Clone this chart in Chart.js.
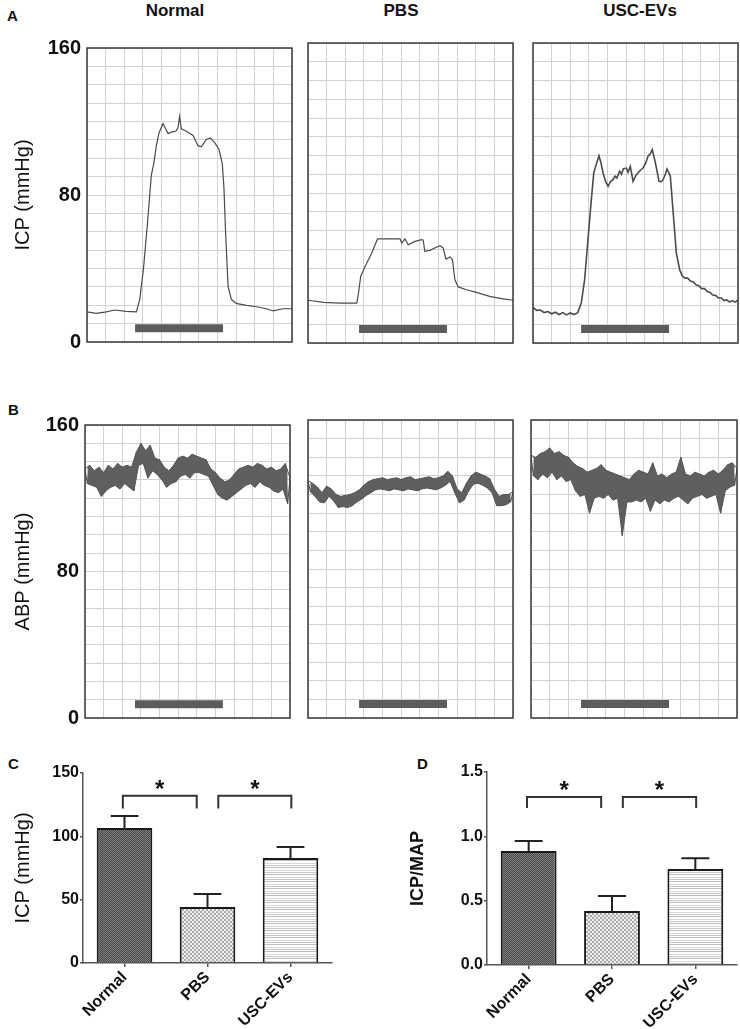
<!DOCTYPE html>
<html>
<head>
<meta charset="utf-8">
<title>ICP / ABP</title>
<script src="https://cdn.jsdelivr.net/npm/chart.js@4.4.1/dist/chart.umd.min.js"></script>
<style>
  body { margin: 0; background: #fff; }
  #fig { position: relative; width: 740px; height: 1029px; overflow: hidden;
         font-family: "Liberation Sans", Arial, sans-serif; color: #111; }
  #fig canvas { position: absolute; }
  .letter { position: absolute; font-weight: bold; font-size: 15px; line-height: 18px; }
  .col { position: absolute; width: 140px; text-align: center; font-weight: bold;
         font-size: 17px; line-height: 20px; top: 1px; }
</style>
</head>
<body>
<div id="fig">
  <div class="letter" style="left:7px;top:7px">A</div>
  <div class="letter" style="left:8px;top:401px">B</div>
  <div class="letter" style="left:8px;top:755px">C</div>
  <div class="letter" style="left:417px;top:755px">D</div>
  <div class="col" style="left:105px">Normal</div>
  <div class="col" style="left:331px">PBS</div>
  <div class="col" style="left:570px">USC-EVs</div>

  <canvas id="a1" width="296" height="330" style="left:0;top:30px"></canvas>
  <canvas id="a2" width="211" height="330" style="left:305px;top:30px"></canvas>
  <canvas id="a3" width="210" height="330" style="left:530px;top:30px"></canvas>
  <canvas id="b1" width="294" height="330" style="left:0;top:407px"></canvas>
  <canvas id="b2" width="211" height="330" style="left:305px;top:407px"></canvas>
  <canvas id="b3" width="212" height="330" style="left:528px;top:407px"></canvas>
  <canvas id="c" width="345" height="274" style="left:0;top:755px"></canvas>
  <canvas id="d" width="370" height="274" style="left:370px;top:755px"></canvas>
</div>
<script>
// ---- panel A: ICP traces (x = grid divisions, 11 across; y = mmHg) ----
const icpNormalT = [0, 0.5, 1.04, 1.48, 2.1, 2.65, 2.83, 3.04, 3.27, 3.45, 3.58, 3.72, 3.86, 4.08, 4.2, 4.35, 4.53, 4.76, 4.88, 4.97, 5.06, 5.33, 5.69, 5.96, 6.14, 6.4, 6.62, 6.85, 7.08, 7.26, 7.35, 7.44, 7.57, 7.75, 8.01, 8.55, 9.09, 9.62, 9.98, 10.52, 11];
const icpNormalV = [16.4, 15.6, 16.4, 17.4, 16.7, 16.4, 23, 40.9, 67.6, 90.7, 96.9, 106.7, 113.8, 118.8, 116.5, 113.4, 114.2, 114.7, 116.5, 122.7, 116, 114.7, 112.4, 106.7, 106.3, 110.2, 111.1, 108.5, 104.9, 96.9, 83.6, 58.7, 30.2, 23.1, 21, 19.9, 19.2, 18.1, 16.9, 18.1, 18.1];

const icpPbsT = [0, 0.84, 1.73, 2.62, 2.71, 2.83, 3.07, 3.42, 3.73, 4.4, 4.94, 5.03, 5.2, 5.38, 5.74, 6.1, 6.18, 6.27, 6.54, 6.8, 7.08, 7.25, 7.4, 7.61, 7.75, 7.88, 8.06, 8.5, 9.04, 9.75, 10.47, 11];
const icpPbsV = [22.8, 21.7, 21.3, 21.3, 26.7, 35.6, 40.9, 48, 55.5, 55.5, 55.5, 53.3, 55.5, 52.4, 54.2, 55.1, 54.8, 48.9, 49.4, 50.7, 51.9, 50.7, 44.8, 45.9, 44.5, 33.8, 29.9, 28.4, 27, 24.9, 23.5, 22.8];

const icpUscT = [0, 0.2, 0.4, 0.6, 0.8, 1.0, 1.2, 1.4, 1.6, 1.8, 2.0, 2.2, 2.4, 2.59, 2.77, 2.95, 3.13, 3.26, 3.36, 3.54, 3.65, 3.76, 3.9, 4.03, 4.15, 4.29, 4.4, 4.5, 4.65, 4.75, 4.85, 5.01, 5.1, 5.22, 5.3, 5.37, 5.5, 5.63, 5.75, 5.9, 6.05, 6.17, 6.3, 6.4, 6.53, 6.65, 6.76, 6.88, 6.98, 7.1, 7.19, 7.28, 7.37, 7.51, 7.69, 7.87, 8.0, 8.15, 8.3, 8.45, 8.6, 8.75, 8.9, 9.05, 9.2, 9.35, 9.5, 9.65, 9.8, 9.95, 10.1, 10.25, 10.4, 10.55, 10.7, 10.85, 11];
const icpUscV = [19, 17.4, 17.6, 16.2, 16.8, 15.6, 16.4, 15.2, 16.2, 15, 16, 15.2, 16.2, 21.3, 33.8, 55.1, 76.5, 90.7, 94.2, 99.9, 96, 90.7, 86, 83.6, 86, 87.1, 89, 88, 91.6, 90, 93, 93.3, 91, 94.2, 90, 86.2, 89, 90.7, 92, 93.3, 96, 99.6, 101, 103.1, 97.8, 92, 86.2, 86, 87.1, 90, 92.8, 91, 88.9, 71.1, 48, 39.1, 36, 34.6, 34.6, 33, 32.6, 31, 30.6, 29, 29, 27.4, 27, 25.6, 25.4, 24, 24, 22.6, 23, 21.8, 22.6, 21.8, 22.8];

// ---- panel B: ABP traces, one reading every 1/8 grid division ----
// (readings alternate between the top and the bottom of the pulse band)
const abpStep = 0.125;
const abpNormal = [136, 128, 138, 127, 135, 126, 137, 121, 134, 124, 138, 126, 136, 127, 139, 125, 137, 128, 138, 126, 137, 124, 145, 138, 150, 139, 146, 131, 149, 135, 142, 133, 141, 130, 137, 126, 135, 128, 138, 129, 142, 132, 143, 133, 142, 131, 144, 134, 143, 134, 142, 133, 141, 132, 136, 127, 134, 122, 131, 120, 129, 119, 130, 121, 133, 123, 136, 125, 137, 127, 138, 128, 137, 126, 139, 129, 138, 127, 136, 126, 137, 124, 135, 123, 136, 125, 139, 117, 131];
const abpPbs = [127.5, 121.5, 126, 119, 124, 116, 121, 115.5, 124.5, 119, 123, 116.5, 120, 113, 119, 113.5, 119.5, 113, 120, 114, 121, 116, 122.5, 117.5, 125, 119.5, 127, 121, 128, 122.5, 128.5, 123, 129, 122.5, 128, 122, 128.5, 123, 129, 122.5, 128, 122, 129, 123, 129.5, 122.5, 128, 122, 128.5, 123, 129, 123.5, 129.5, 123, 128.5, 122.5, 129, 123.5, 130, 125, 132.5, 127, 130, 121, 123, 115.5, 121, 117, 126, 122, 130, 125.5, 132, 126, 131, 125, 130, 123.5, 128.5, 121, 123, 114, 119, 114, 120, 114.5, 120, 116, 121.5];
const abpUsc = [141, 130, 140, 128, 142, 131, 143, 129, 145, 132, 142, 128, 143, 130, 141, 127, 140, 128, 137, 122, 135, 119, 134, 120, 132, 110, 133, 118, 134, 119, 136, 118, 133, 120, 132, 117, 131, 118, 130, 98, 129, 116, 128, 116, 131, 117, 133, 116, 132, 118, 131, 111, 137, 117, 130, 115, 131, 117, 129, 116, 131, 118, 132, 119, 140, 117, 131, 115, 130, 118, 132, 119, 131, 120, 130, 118, 132, 119, 133, 120, 131, 110, 133, 122, 136, 124, 137, 125, 134];

// stimulation bar (start, end) in grid divisions, drawn at stimLevel mmHg
const stimA = [[2.58, 7.3], [2.74, 7.46], [2.58, 7.3]];
const stimB = [[2.68, 7.4], [2.74, 7.46], [2.67, 7.37]];
const stimLevel = 7.5;

// ---- panels C / D: group means with SEM ----
const groups = ['Normal', 'PBS', 'USC-EVs'];
const icpMean = [106.6, 44.2, 82.9];
const icpSem = [9.4, 10.3, 8.7];
const ratioMean = [0.886, 0.42, 0.746];
const ratioSem = [0.078, 0.116, 0.084];
// significance brackets, in category units
const sigFrom = [-0.02, 1.13];
const sigTo = [0.87, 2.01];

Chart.defaults.font.family = '"Liberation Sans", Arial, sans-serif';
Chart.defaults.color = '#111';
Chart.defaults.animation = false;

// frame round the recording boxes
const boxFrame = {
    id: 'boxFrame',
    afterDatasetsDraw(chart) {
        const { ctx, chartArea: a } = chart;
        ctx.save();
        ctx.strokeStyle = '#3a3a3a';
        ctx.lineWidth = 1.5;
        ctx.strokeRect(a.left, a.top, a.right - a.left, a.bottom - a.top);
        ctx.restore();
    }
};

function pairs(t, v) {
    return t.map((x, i) => ({ x: x, y: v[i] }));
}

function sampled(v) {
    return v.map((y, i) => ({ x: i * abpStep, y: y }));
}

// top / bottom edges of the pulse band, filled between
function bandSets(v) {
    const upper = [];
    const lower = [];
    v.forEach((y, i) => (i % 2 ? lower : upper).push({ x: i * abpStep, y: y }));
    return [
        { data: upper, borderColor: '#555', borderWidth: 1, pointRadius: 0, fill: false },
        { data: lower, borderColor: '#555', borderWidth: 1, pointRadius: 0, fill: '-1', backgroundColor: '#5f5f5f' }
    ];
}

function traceChart(id, sets, stim, yTitle, pad, yWidth) {
    const showAxis = yWidth > 0;
    return new Chart(document.getElementById(id), {
        type: 'line',
        data: {
            datasets: sets.concat([{
                data: [{ x: stim[0], y: stimLevel }, { x: stim[1], y: stimLevel }],
                borderColor: '#5c5c5c', borderWidth: 8, borderCapStyle: 'butt', pointRadius: 0
            }])
        },
        options: {
            responsive: false,
            events: [],
            layout: { padding: pad },
            plugins: { legend: { display: false }, tooltip: { enabled: false } },
            scales: {
                x: {
                    type: 'linear', min: 0, max: 11,
                    ticks: { display: false, stepSize: 1 },
                    grid: { color: '#d2d2d2', drawTicks: false },
                    border: { display: false },
                    afterFit: s => { s.height = 0; }
                },
                y: {
                    min: 0, max: 160,
                    ticks: {
                        display: showAxis, stepSize: 10, autoSkip: false, padding: 6,
                        font: { size: 20, weight: 'bold' },
                        callback: v => (v % 80 === 0 ? v : '')
                    },
                    grid: { color: '#d2d2d2', drawTicks: false },
                    border: { display: false },
                    title: { display: showAxis, text: yTitle, font: { size: 20 }, padding: { top: 11, bottom: 0 } },
                    afterFit: s => { s.width = yWidth; }
                }
            }
        },
        plugins: [boxFrame]
    });
}

function lineSet(points, width) {
    return [{ data: points, borderColor: '#4b4b4b', borderWidth: width, pointRadius: 0, tension: 0 }];
}

function abpSets(v) {
    return bandSets(v).concat(lineSet(sampled(v), 1));
}

traceChart('a1', lineSet(pairs(icpNormalT, icpNormalV), 1.2), stimA[0], 'ICP (mmHg)', { left: 0, right: 4, top: 13, bottom: 17 }, 87);
traceChart('a2', lineSet(pairs(icpPbsT, icpPbsV), 1.2), stimA[1], '', { left: 3, right: 3, top: 13, bottom: 17 }, 0);
traceChart('a3', lineSet(pairs(icpUscT, icpUscV), 1.6), stimA[2], '', { left: 3, right: 2, top: 13, bottom: 17 }, 0);
traceChart('b1', abpSets(abpNormal), stimB[0], 'ABP (mmHg)', { left: 0, right: 4, top: 13, bottom: 19 }, 85);
traceChart('b2', abpSets(abpPbs), stimB[1], '', { left: 3, right: 3, top: 13, bottom: 19 }, 0);
traceChart('b3', abpSets(abpUsc), stimB[2], '', { left: 3, right: 3, top: 13, bottom: 19 }, 0);

// bar fills
function makePattern(w, h, paint) {
    const c = document.createElement('canvas');
    c.width = w;
    c.height = h;
    const g = c.getContext('2d');
    paint(g);
    return g.createPattern(c, 'repeat');
}
const fillNormal = makePattern(2, 2, g => {
    g.fillStyle = '#808080'; g.fillRect(0, 0, 2, 2);
    g.fillStyle = '#474747'; g.fillRect(0, 0, 1, 1); g.fillRect(1, 1, 1, 1);
});
const fillPbs = makePattern(4, 4, g => {
    g.fillStyle = '#ededed'; g.fillRect(0, 0, 4, 4);
    g.fillStyle = '#ababab'; g.fillRect(0, 0, 2, 2); g.fillRect(2, 2, 2, 2);
});
const fillUsc = makePattern(1, 7, g => {
    g.fillStyle = '#ffffff'; g.fillRect(0, 0, 1, 7);
    g.fillStyle = '#bcbcbc'; g.fillRect(0, 0, 1, 1);
    g.fillStyle = '#d8d8d8'; g.fillRect(0, 3, 1, 1);
    g.fillStyle = '#c6c6c6'; g.fillRect(0, 5, 1, 1);
});

// error bars (upper half), significance brackets and stars
function annotations(mean, sem, sig) {
    return {
        id: 'annotations',
        afterDatasetsDraw(chart) {
            const { ctx, scales } = chart;
            const bars = chart.getDatasetMeta(0).data;
            ctx.save();
            ctx.strokeStyle = '#222';
            ctx.lineWidth = 2;
            bars.forEach((bar, i) => {
                const top = scales.y.getPixelForValue(mean[i] + sem[i]);
                const half = bar.width / 4;
                ctx.beginPath();
                ctx.moveTo(bar.x, bar.y);
                ctx.lineTo(bar.x, top);
                ctx.moveTo(bar.x - half, top);
                ctx.lineTo(bar.x + half, top);
                ctx.stroke();
            });
            const yTop = scales.y.getPixelForValue(sig.top);
            const yLeg = scales.y.getPixelForValue(sig.leg);
            const yStar = scales.y.getPixelForValue(sig.star);
            ctx.strokeStyle = '#333';
            ctx.fillStyle = '#111';
            ctx.font = 'bold 24px "Liberation Sans", Arial, sans-serif';
            ctx.textAlign = 'center';
            ctx.textBaseline = 'alphabetic';
            sigFrom.forEach((f, k) => {
                const x0 = scales.x.getPixelForValue(f);
                const x1 = scales.x.getPixelForValue(sigTo[k]);
                ctx.beginPath();
                ctx.moveTo(x0, yLeg);
                ctx.lineTo(x0, yTop);
                ctx.lineTo(x1, yTop);
                ctx.lineTo(x1, yLeg);
                ctx.stroke();
                ctx.fillText('*', (x0 + x1) / 2, yStar + 14);
            });
            ctx.restore();
        }
    };
}

function barChart(id, mean, sem, opt) {
    return new Chart(document.getElementById(id), {
        type: 'bar',
        data: {
            labels: groups,
            datasets: [{
                data: mean,
                backgroundColor: [fillNormal, fillPbs, fillUsc],
                borderColor: '#1a1a1a', borderWidth: 2,
                barPercentage: 0.67, categoryPercentage: 1
            }]
        },
        options: {
            responsive: false,
            events: [],
            layout: { padding: opt.pad },
            plugins: { legend: { display: false }, tooltip: { enabled: false } },
            scales: {
                x: {
                    grid: { offset: false, drawOnChartArea: false, tickLength: 4, color: '#555', lineWidth: 1.5 },
                    border: { color: '#555', width: 1.5 },
                    ticks: { minRotation: 45, maxRotation: 45, padding: 1, font: { size: 16, weight: 'bold' } },
                    afterFit: s => { s.height = opt.xh; }
                },
                y: {
                    min: 0, max: opt.max,
                    ticks: { stepSize: opt.step, padding: 1, font: { size: 16, weight: 'bold' }, callback: opt.fmt },
                    grid: { drawOnChartArea: false, tickLength: 3, color: '#555', lineWidth: 1.5 },
                    border: { color: '#555', width: 1.5 },
                    title: { display: true, text: opt.title, font: opt.titleFont, padding: { top: opt.titlePad, bottom: 0 } },
                    afterFit: s => { s.width = opt.yw; }
                }
            }
        },
        plugins: [annotations(mean, sem, opt.sig)]
    });
}

barChart('c', icpMean, icpSem, {
    max: 150, step: 50, fmt: v => v, title: 'ICP (mmHg)', titleFont: { size: 20 }, titlePad: 11,
    sig: { top: 132, leg: 122, star: 142 }, yw: 83, xh: 66, pad: { left: 0, right: 13, top: 18, bottom: 0 }
});
barChart('d', ratioMean, ratioSem, {
    max: 1.5, step: 0.5, fmt: v => v.toFixed(1), title: 'ICP/MAP', titleFont: { size: 18, weight: 'bold' }, titlePad: 37,
    sig: { top: 1.306, leg: 1.22, star: 1.407 }, yw: 117, xh: 64, pad: { left: 0, right: 3, top: 17, bottom: 0 }
});
</script>
</body>
</html>
